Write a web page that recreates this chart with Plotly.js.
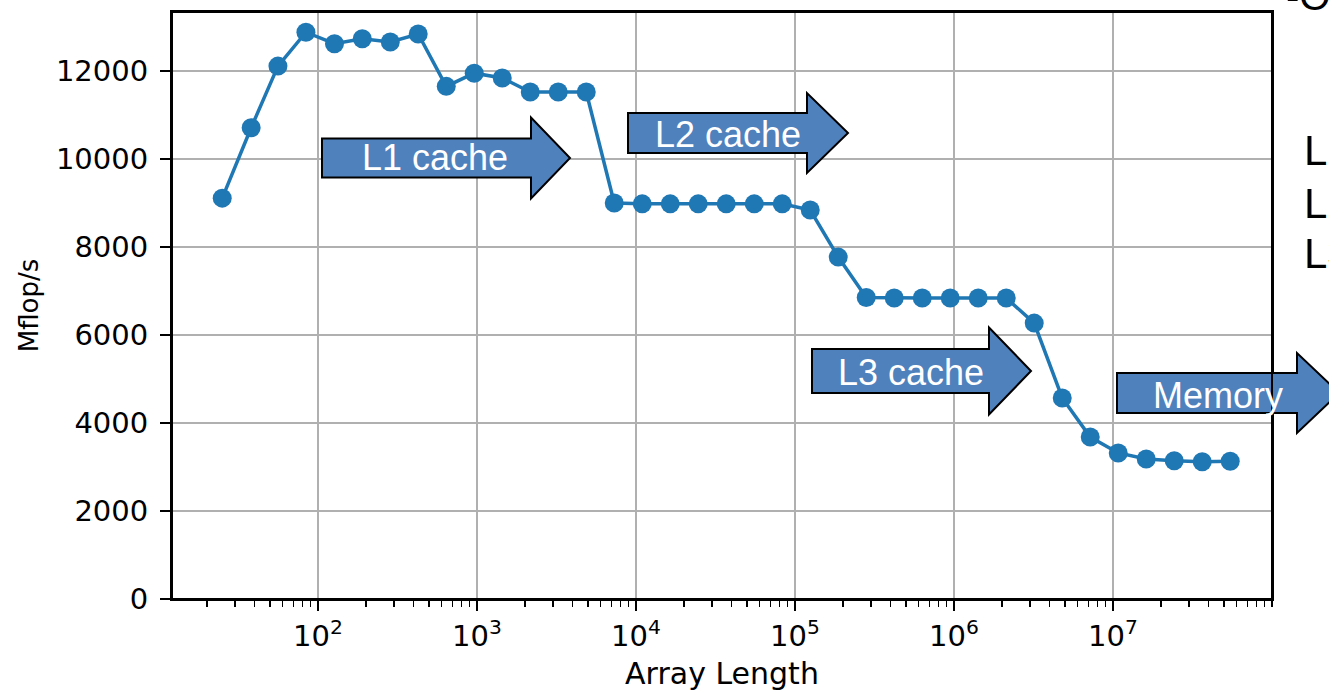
<!DOCTYPE html>
<html>
<head>
<meta charset="utf-8">
<script src="https://cdn.plot.ly/plotly-3.0.1.min.js"></script>
<style>
  html, body { margin: 0; padding: 0; background: #fff; }
  #chart { width: 1329px; height: 691px; }
</style>
</head>
<body>
<div id="chart"></div>
<script>
// Array length sweep (elements) and measured throughput (Mflop/s)
const arrayLength = [
  25, 38, 56, 84, 127, 190, 285, 427, 641, 961, 1442, 2163, 3244, 4866,
  7299, 10949, 16423, 24634, 36951, 55427, 83140, 124710, 187065, 280598,
  420897, 631345, 947018, 1420527, 2130790, 3196185, 4794278, 7191417,
  10787126, 16180689, 24271033, 36406549, 54609824
];
const mflops = [
  9110, 10710, 12110, 12880, 12620, 12730, 12660, 12840, 11650, 11950,
  11840, 11520, 11520, 11520, 9000, 8980, 8980, 8980, 8980, 8980, 8980,
  8840, 7770, 6850, 6840, 6840, 6840, 6840, 6840, 6270, 4570, 3680,
  3320, 3180, 3140, 3120, 3130
];
const xTickVals = [1e2, 1e3, 1e4, 1e5, 1e6, 1e7];
const xTickText = ['10<sup>2</sup>', '10<sup>3</sup>', '10<sup>4</sup>',
                   '10<sup>5</sup>', '10<sup>6</sup>', '10<sup>7</sup>'];
const yTickVals = [0, 2000, 4000, 6000, 8000, 10000, 12000];
const yTickText = ['0', '2000', '4000', '6000', '8000', '10000', '12000'];

// Memory-hierarchy callouts
const arrowLabels = ['L1 cache', 'L2 cache', 'L3 cache', 'Memory'];
const sideNotes = ['L1', 'L2', 'L3'];

// Plot-area box in page pixels, used to place the callouts
const W = 1329, H = 691;
const M = { l: 172, r: 57, t: 12, b: 92 };
const PW = W - M.l - M.r, PH = H - M.t - M.b;
const px = v => (v - M.l) / PW;
const py = v => (H - M.b - v) / PH;

// Block arrow geometry: body left, head start, tip, centre line, half heights
const arrowGeom = [
  { x0: 322, x1: 531, x2: 570, yc: 158, bh: 19.5, hh: 40.5, tx: 435, ty: 158 },
  { x0: 628, x1: 807, x2: 848, yc: 133, bh: 20, hh: 40, tx: 728, ty: 134 },
  { x0: 812, x1: 989, x2: 1031, yc: 371, bh: 22, hh: 43.5, tx: 911, ty: 373 },
  { x0: 1117, x1: 1297, x2: 1339, yc: 393, bh: 20, hh: 40, tx: 1218, ty: 395 }
];

function arrowPath(g) {
  const pts = [
    [g.x0, g.yc - g.bh], [g.x1, g.yc - g.bh], [g.x1, g.yc - g.hh],
    [g.x2, g.yc], [g.x1, g.yc + g.hh], [g.x1, g.yc + g.bh], [g.x0, g.yc + g.bh]
  ];
  return 'M ' + pts.map(p => px(p[0]).toFixed(5) + ' ' + py(p[1]).toFixed(5)).join(' L ') + ' Z';
}

const shapes = arrowGeom.map(g => ({
  type: 'path', xref: 'paper', yref: 'paper', layer: 'above',
  path: arrowPath(g),
  fillcolor: '#4F81BD', line: { color: '#000000', width: 2 }
}));
// frame drawn over the arrows so the right border stays visible
shapes.push({
  type: 'rect', xref: 'paper', yref: 'paper', layer: 'above',
  x0: 0, x1: 1, y0: 0, y1: 1, line: { color: '#000000', width: 2 }
});

const calloutFont = 'Liberation Sans, Arial, sans-serif';
const annotations = arrowGeom.map((g, i) => ({
  xref: 'paper', yref: 'paper', x: px(g.tx), y: py(g.ty),
  xanchor: 'center', yanchor: 'middle', showarrow: false,
  text: arrowLabels[i],
  font: { family: calloutFont, size: 36, color: '#ffffff' }
}));
const noteY = [151, 203, 253];
sideNotes.forEach((t, i) => annotations.push({
  xref: 'paper', yref: 'paper', x: px(1302), y: py(noteY[i]),
  xanchor: 'left', yanchor: 'middle', showarrow: false, text: t,
  font: { family: calloutFont, size: 42, color: '#000000' }
}));
annotations.push({
  xref: 'paper', yref: 'paper', x: px(1284), y: py(-4),
  xanchor: 'left', yanchor: 'middle', showarrow: false, text: '-O3',
  font: { family: calloutFont, size: 40, color: '#000000' }
});

const trace = {
  x: arrayLength, y: mflops, type: 'scatter', mode: 'lines+markers',
  line: { color: '#1f77b4', width: 3.5 },
  marker: { color: '#1f77b4', size: 19 },
  cliponaxis: false, hoverinfo: 'x+y'
};

const tickFont = { family: 'DejaVu Sans, sans-serif', size: 29, color: '#000000' };
const titleFont = { family: 'DejaVu Sans, sans-serif', size: 30, color: '#000000' };

const layout = {
  width: W, height: H,
  margin: M,
  paper_bgcolor: '#ffffff', plot_bgcolor: '#ffffff',
  showlegend: false,
  font: tickFont,
  xaxis: {
    type: 'log', range: [1.082, 8.0],
    tickmode: 'array', tickvals: xTickVals, ticktext: xTickText,
    ticks: 'outside', ticklen: 10, tickwidth: 2, tickcolor: '#000000',
    tickfont: tickFont,
    showgrid: true, gridcolor: '#b0b0b0', gridwidth: 2,
    showline: true, linecolor: '#000000', linewidth: 2, mirror: true,
    zeroline: false,
    minor: { ticks: 'outside', ticklen: 6, tickwidth: 1.5, tickcolor: '#000000', dtick: 'D1', showgrid: false },
    title: { text: 'Array Length', font: titleFont, standoff: 12 }
  },
  yaxis: {
    range: [0, 13340],
    tickmode: 'array', tickvals: yTickVals, ticktext: yTickText,
    ticks: 'outside', ticklen: 10, tickwidth: 2, tickcolor: '#000000',
    tickfont: tickFont, ticklabelstandoff: 6,
    showgrid: true, gridcolor: '#b0b0b0', gridwidth: 2,
    showline: true, linecolor: '#000000', linewidth: 2, mirror: true,
    zeroline: false,
    title: { text: 'Mflop/s', font: { family: 'DejaVu Sans, sans-serif', size: 26, color: '#000000' }, standoff: 10 }
  },
  shapes: shapes,
  annotations: annotations
};

Plotly.newPlot('chart', [trace], layout, { displayModeBar: false, staticPlot: true });
</script>
</body>
</html>
